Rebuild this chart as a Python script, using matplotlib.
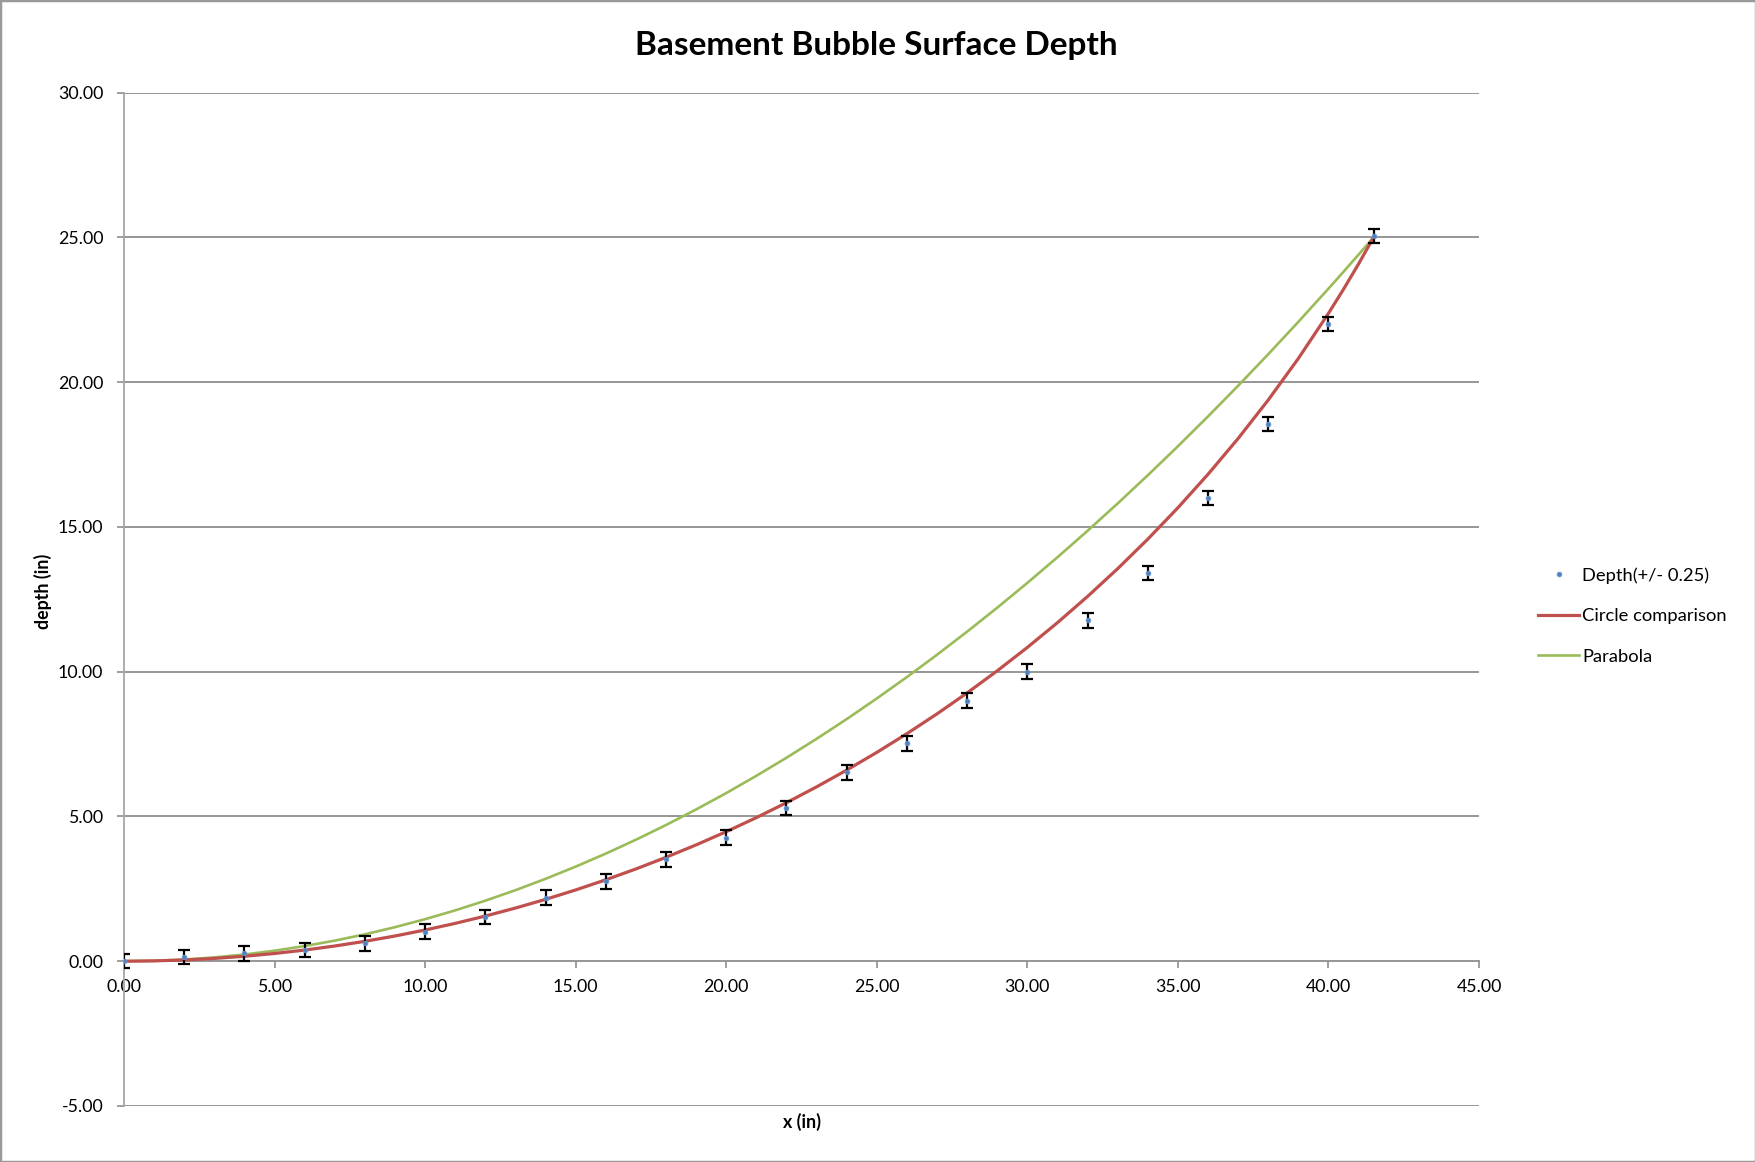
import matplotlib
matplotlib.use("Agg")
import matplotlib.pyplot as plt
from matplotlib.patches import Rectangle

plt.rcParams['font.family'] = ['Lato', 'DejaVu Sans']

# Measured data
x_meas = [0, 2, 4, 6, 8, 10, 12, 14, 16, 18, 20, 22, 24, 26, 28, 30, 32, 34, 36, 38, 40, 41.5]
depth = [0.0, 0.15, 0.27, 0.39, 0.62, 1.02, 1.52, 2.2, 2.76, 3.52, 4.27, 5.3, 6.52, 7.52,
         9.0, 10.0, 11.77, 13.4, 16.0, 18.56, 22.0, 25.05]
depth_err = 0.25

# Comparison curves
x_curve = [0, 1, 2, 3, 4, 5, 6, 7, 8, 9, 10, 11, 12, 13, 14, 15, 16, 17, 18, 19, 20,
           21, 22, 23, 24, 25, 26, 27, 28, 29, 30, 31, 32, 33, 34, 35, 36, 37, 38, 39,
           40, 40.5, 41, 41.5]
circle = [0.0, 0.011, 0.043, 0.096, 0.171, 0.267, 0.385, 0.525, 0.687, 0.871, 1.078,
          1.307, 1.560, 1.836, 2.136, 2.461, 2.811, 3.186, 3.588, 4.017, 4.473, 4.959,
          5.474, 6.020, 6.599, 7.211, 7.858, 8.541, 9.265, 10.028, 10.836, 11.691,
          12.596, 13.556, 14.575, 15.659, 16.815, 18.051, 19.380, 20.814, 22.372,
          23.205, 24.079, 25.0]
parabola = [0.0, 0.015, 0.058, 0.131, 0.232, 0.363, 0.523, 0.711, 0.929, 1.176, 1.452,
            1.756, 2.090, 2.453, 2.845, 3.266, 3.716, 4.195, 4.703, 5.240, 5.806, 6.402,
            7.026, 7.679, 8.361, 9.073, 9.813, 10.582, 11.381, 12.208, 13.064, 13.950,
            14.864, 15.808, 16.781, 17.782, 18.813, 19.872, 20.961, 22.079, 23.226,
            23.810, 24.401, 25.0]

x_ticks = [0, 5, 10, 15, 20, 25, 30, 35, 40, 45]
y_ticks = [-5, 0, 5, 10, 15, 20, 25, 30]

W, H = 1756, 1162
fig = plt.figure(figsize=(W / 100, H / 100), dpi=100)
fig.patch.set_facecolor('white')
left, right, top, bottom = 124, 1479, 92.5, 1106
ax = fig.add_axes([left / W, 1 - bottom / H, (right - left) / W, (bottom - top) / H])

grid_c = '#8e8e8e'
ax.set_xlim(0, 45)
ax.set_ylim(-5, 30)
for yv in y_ticks:
    if yv != 0:
        ax.axhline(yv, color=grid_c, lw=1.3, zorder=1)

ax.plot(x_curve, parabola, color='#9bbb59', lw=1.9, label='Parabola', zorder=3)
ax.plot(x_curve, circle, color='#c0504d', lw=2.3, label='Circle comparison', zorder=3)
ax.errorbar(x_meas, depth, yerr=depth_err, fmt='none', ecolor='black', elinewidth=1.6,
            capsize=4, capthick=1.6, zorder=4)
ax.plot(x_meas, depth, 'o', ms=3.5, color='#4f81bd', mec='#6f9bd4', mew=0.5,
        label='Depth(+/- 0.25)', zorder=5, linestyle='none')

for s in ['top', 'right']:
    ax.spines[s].set_visible(False)
ax.spines['bottom'].set_position(('data', 0))
ax.spines['bottom'].set_color(grid_c)
ax.spines['bottom'].set_linewidth(1.3)
ax.spines['left'].set_color('#a6a6a6')
ax.spines['left'].set_linewidth(1.3)

ax.set_xticks(x_ticks)
ax.set_yticks(y_ticks)
ax.set_xticklabels([f'{v:.2f}' for v in x_ticks])
ax.set_yticklabels([f'{v:.2f}' for v in y_ticks])
ax.tick_params(axis='x', direction='out', length=5, width=1.2, color=grid_c,
               labelsize=12.8, pad=8)
ax.tick_params(axis='y', direction='out', length=5, width=1.2, color=grid_c,
               labelsize=12.8, pad=10)

fig.text(876 / W, 1 - 45 / H, 'Basement Bubble Surface Depth', ha='center', va='center',
         fontsize=24, fontweight='bold')
fig.text(43 / W, 1 - 591 / H, 'depth (in)', ha='center', va='center', rotation=90,
         fontsize=12.8, fontweight='bold')
fig.text(802 / W, 1 - 1122 / H, 'x (in)', ha='center', va='center',
         fontsize=12.8, fontweight='bold')

handles, labels = ax.get_legend_handles_labels()
order = [2, 1, 0]
leg = fig.legend([handles[i] for i in order], [labels[i] for i in order],
                 loc='center left', bbox_to_anchor=(1538 / W, 1 - 616 / H),
                 frameon=False, fontsize=13.2, handlelength=2.26, handletextpad=0.15,
                 labelspacing=1.33, borderaxespad=0, borderpad=0)

fig.add_artist(Rectangle((0, 0), 1, 1, transform=fig.transFigure, fill=False,
                         edgecolor='#9a9a9a', lw=2.5))

fig.savefig('out.png', dpi=100)
